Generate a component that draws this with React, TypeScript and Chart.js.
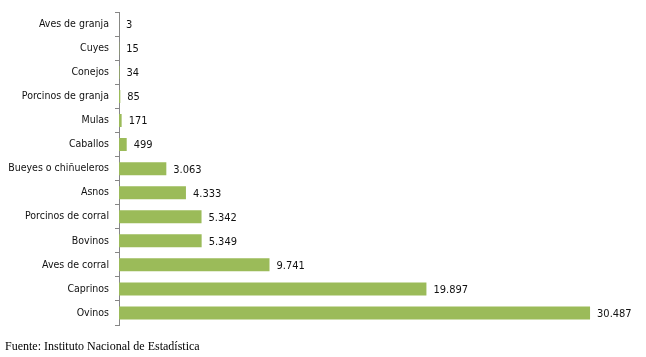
import React, { useEffect, useRef } from "react";
import { Chart, registerables } from "chart.js";

Chart.register(...registerables);

const categories = [
  "Aves de granja",
  "Cuyes",
  "Conejos",
  "Porcinos de granja",
  "Mulas",
  "Caballos",
  "Bueyes o chiñueleros",
  "Asnos",
  "Porcinos de corral",
  "Bovinos",
  "Aves de corral",
  "Caprinos",
  "Ovinos",
];

const values = [3, 15, 34, 85, 171, 499, 3063, 4333, 5342, 5349, 9741, 19897, 30487];

const sourceNote = "Fuente: Instituto Nacional de Estadística";

const FONT = "'Liberation Sans Narrow', 'DejaVu Sans Condensed', 'Arial Narrow', 'Liberation Sans', Arial, sans-serif";

function fmt(v: number): string {
  return String(v).replace(/\B(?=(\d{3})+(?!\d))/g, ".");
}

const valueLabels = {
  id: "valueLabels",
  afterDatasetsDraw(chart: any) {
    const ctx = chart.ctx;
    const meta = chart.getDatasetMeta(0);
    ctx.save();
    ctx.font = "11px " + FONT;
    ctx.fillStyle = "#111";
    ctx.textAlign = "left";
    ctx.textBaseline = "middle";
    meta.data.forEach((bar: any, i: number) => {
      const v = chart.data.datasets[0].data[i];
      ctx.fillText(fmt(v), bar.x + 7, bar.y + 1);
    });
    ctx.restore();
  },
};

export default function App() {
  const ref = useRef<HTMLCanvasElement | null>(null);

  useEffect(() => {
    document.body.style.margin = "0";
    const chart = new Chart(ref.current!, {
      type: "bar",
      data: {
        labels: categories,
        datasets: [
          {
            data: values,
            backgroundColor: "#9BBB59",
            borderWidth: 0,
            barPercentage: 0.54,
            categoryPercentage: 1,
          },
        ],
      },
      options: {
        indexAxis: "y",
        animation: false,
        responsive: false,
        layout: { padding: { top: 10, bottom: 32, left: 0, right: 6 } },
        plugins: {
          legend: { display: false },
          tooltip: { enabled: false },
        },
        scales: {
          x: {
            display: false,
            min: 0,
            max: 33720,
          },
          y: {
            afterFit: (scale: any) => {
              scale.width = 119;
            },
            border: { display: true, color: "#868686", width: 1 },
            grid: {
              display: true,
              drawOnChartArea: false,
              offset: true,
              tickLength: 4,
              color: "#868686",
            },
            ticks: {
              padding: 6,
              color: "#111",
              font: { size: 10.5, family: FONT },
            },
          },
        },
      },
      plugins: [valueLabels],
    });
    return () => chart.destroy();
  }, []);

  return (
    <div style={{ position: "relative", width: 646, height: 357 }}>
      <canvas ref={ref} width={646} height={357} style={{ display: "block" }} />
      <div
        style={{
          position: "absolute",
          left: 5,
          top: 339,
          fontFamily: "'Liberation Serif', 'Times New Roman', serif",
          fontSize: 12,
          color: "#000",
          whiteSpace: "nowrap",
        }}
      >
        {sourceNote}
      </div>
    </div>
  );
}
